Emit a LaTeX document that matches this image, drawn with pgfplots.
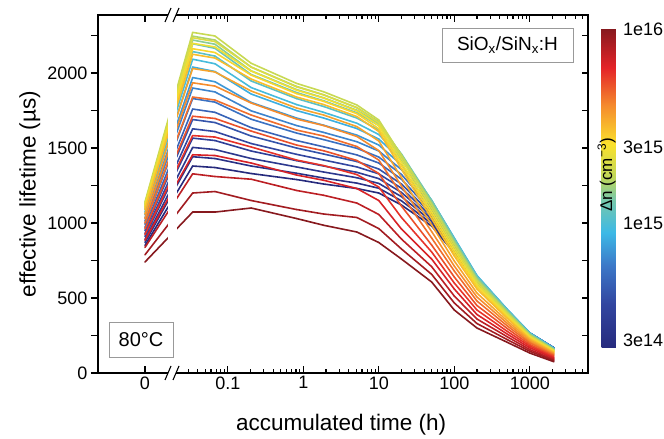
\documentclass[border=0pt]{standalone}
\usepackage{fontspec}
\setmainfont{Liberation Sans}
\usepackage{pgfplots}
\usepackage{pgfplotstable}
\pgfplotsset{compat=1.18}
\pgfplotsset{colormap={dn}{rgb255(0cm)=(38,42,125) rgb255(4cm)=(50,70,160) rgb255(7.5cm)=(60,120,200) rgb255(10.5cm)=(60,185,230) rgb255(13.5cm)=(120,200,170) rgb255(15.5cm)=(190,215,90) rgb255(18.5cm)=(250,225,45) rgb255(22cm)=(245,140,45) rgb255(25.5cm)=(228,35,40) rgb255(29cm)=(135,25,30)}}
% lt = log10(time/h); the first row (lt=-2.097) is the t=0 point left of the axis break
\pgfplotstableread{
lt c0 c1 c2 c3 c4 c5 c6 c7 c8 c9 c10 c11 c12 c13 c14 c15 c16 c17 c18 c19 c20 c21 c22 c23 c24 c25 c26 c27 c28 c29
-2.097 850 870 890 910 930 950 971 992 1013 1034 1055 1073 1092 1110 1120 1130 1140 1128 1115 1103 1090 1060 1030 1000 962 923 885 837 788 740
-1.465 1380 1442 1504 1566 1628 1690 1760 1830 1900 1970 2040 2092 2143 2195 2220 2246 2271 2235 2198 2162 2125 2030 1935 1840 1712 1583 1455 1328 1200 1073
-1.17 1370 1430 1490 1550 1610 1670 1738 1806 1874 1942 2010 2062 2113 2165 2192 2220 2247 2210 2174 2137 2100 2007 1913 1820 1697 1573 1450 1310 1210 1073
-0.69 1330 1380 1430 1480 1530 1580 1636 1692 1748 1804 1860 1903 1947 1990 2015 2040 2065 2039 2013 1986 1960 1880 1800 1720 1613 1507 1400 1292 1150 1100
-0.09 1290 1332 1374 1416 1458 1500 1550 1600 1650 1700 1750 1790 1830 1870 1890 1911 1931 1908 1886 1863 1840 1767 1693 1620 1520 1420 1320 1217 1090 1030
0.27 1260 1300 1340 1380 1420 1460 1508 1556 1604 1652 1700 1738 1777 1815 1835 1855 1875 1854 1833 1811 1790 1720 1650 1580 1482 1383 1285 1185 1060 985
0.71 1230 1266 1302 1338 1374 1410 1454 1498 1542 1586 1630 1665 1700 1735 1752 1770 1787 1768 1748 1729 1710 1643 1577 1510 1417 1323 1230 1133 1037 940
1.0 1200 1232 1264 1296 1328 1360 1400 1440 1480 1520 1560 1590 1620 1650 1662 1675 1687 1668 1649 1629 1610 1547 1483 1420 1330 1240 1150 1057 963 870
1.30 1120 1148 1176 1204 1232 1260 1292 1324 1356 1388 1420 1433 1447 1460 1457 1453 1450 1428 1405 1383 1360 1303 1247 1190 1113 1037 960 893 827 760
1.70 980 996 1012 1028 1044 1060 1078 1096 1114 1132 1150 1150 1150 1150 1140 1130 1120 1098 1075 1053 1030 987 943 900 853 807 760 709 658 607
2.0 800 810 820 830 840 850 860 870 880 890 900 897 893 890 880 870 860 840 820 800 780 747 713 680 640 600 560 513 467 420
2.30 590 596 602 608 614 620 626 632 638 644 650 647 643 640 632 623 615 601 588 574 560 533 507 480 450 420 390 360 330 300
2.70 400 403 406 409 412 415 417 419 421 423 425 423 420 418 412 406 400 391 383 374 365 348 332 315 297 278 260 242 223 205
3.0 262 263 264 265 266 267 267 267 267 267 267 265 264 262 258 254 250 245 239 234 228 219 209 200 189 179 168 156 145 133
3.32 167 167 167 167 167 167 167 166 166 165 165 163 162 160 157 155 152 149 145 142 138 132 126 120 113 105 98 90 83 75
}\tdata
\begin{document}
\begin{tikzpicture}
\begin{axis}[
  at={(98pt,66pt)}, anchor=south west,
  scale only axis, width=490pt, height=358pt,
  xmin=-2.719, xmax=3.771, ymin=0, ymax=2387,
  colormap name=dn,
  point meta min=0, point meta max=29,
  xtick={-2.097,-1,0,1,2,3}, xticklabels={0,0.1,1,10,100,1000},
  minor xtick={-1.5229,-1.3979,-1.3010,-1.2218,-1.1549,-1.0969,-1.0458,
    -0.6990,-0.5229,-0.3979,-0.3010,-0.2218,-0.1549,-0.0969,-0.0458,
    0.3010,0.4771,0.6021,0.6990,0.7782,0.8451,0.9031,0.9542,
    1.3010,1.4771,1.6021,1.6990,1.7782,1.8451,1.9031,1.9542,
    2.3010,2.4771,2.6021,2.6990,2.7782,2.8451,2.9031,2.9542,
    3.3010,3.4771,3.6021,3.6990},
  ytick={0,250,500,750,1000,1250,1500,1750,2000,2250},
  yticklabels={0,,500,,1000,,1500,,2000,},
  xtick align=inside, xtick pos=both,
  ytick align=outside, ytick pos=left,
  major tick length=7pt, minor tick length=4pt,
  tick style={line width=1.1pt, black},
  axis line style={line width=1.3pt},
  tick label style={font=\fontsize{18}{20}\selectfont},
  xlabel={accumulated time (h)},
  ylabel={effective lifetime (µs)},
  every axis x label/.style={at={(axis description cs:0.496,-0.143)}, anchor=center, font=\fontsize{22.5}{26}\selectfont},
  every axis y label/.style={at={(axis description cs:-0.139,0.5)}, rotate=90, anchor=center, font=\fontsize{22.5}{26}\selectfont},
  colorbar right,
  colorbar style={
    scale only axis, width=27pt, height=319pt,
    at={(parent axis.north east)}, anchor=north west, xshift=5pt, yshift=-14pt,
    ytick={0.7,11.3,18.2,29}, yticklabels={3e14,1e15,3e15,1e16},
    major tick length=0pt, ytick style={draw=none},
    axis line style={draw=none},
    yticklabel style={font=\fontsize{18}{20}\selectfont, xshift=-9pt},
  },
]
\pgfplotsinvokeforeach{0,...,29}{
  \addplot[mesh, point meta=#1, line width=1.6pt, line join=round, line cap=round, no marks] table[x=lt, y=c#1] {\tdata};
}
\end{axis}
% axis break
\fill[white] (168pt,67.5pt) rectangle (177pt,422.5pt);
\fill[white] (168pt,62pt) rectangle (176pt,70pt);
\fill[white] (168pt,420pt) rectangle (176pt,428pt);
\draw[line width=1.1pt] (165pt,59pt) -- (171pt,73pt);
\draw[line width=1.1pt] (173pt,59pt) -- (179pt,73pt);
\draw[line width=1.1pt] (165pt,417pt) -- (171pt,431pt);
\draw[line width=1.1pt] (173pt,417pt) -- (179pt,431pt);
% right-hand inward ticks
\foreach \v in {250,500,...,2250} \draw[line width=1.1pt] (588pt,66pt+0.15pt*\v) -- ++(-6pt,0);
% annotations
\node[draw=gray!80, line width=0.6pt, minimum width=64pt, minimum height=35pt, inner sep=2pt, font=\fontsize{20}{24}\selectfont] at (141pt,99.5pt) {80°C};
\node[draw=gray!80, line width=0.6pt, minimum width=131pt, minimum height=34pt, inner sep=2pt, font=\fontsize{19}{22}\selectfont] at (507.5pt,394pt) {SiO\textsubscript{x}/SiN\textsubscript{x}:H};
\node[rotate=90, font=\fontsize{17}{20}\selectfont] at (606.5pt,264pt) {Δn (cm\textsuperscript{−3})};
\pgfresetboundingbox
\useasboundingbox (0,0) rectangle (664pt,439pt);
\end{tikzpicture}
\end{document}
